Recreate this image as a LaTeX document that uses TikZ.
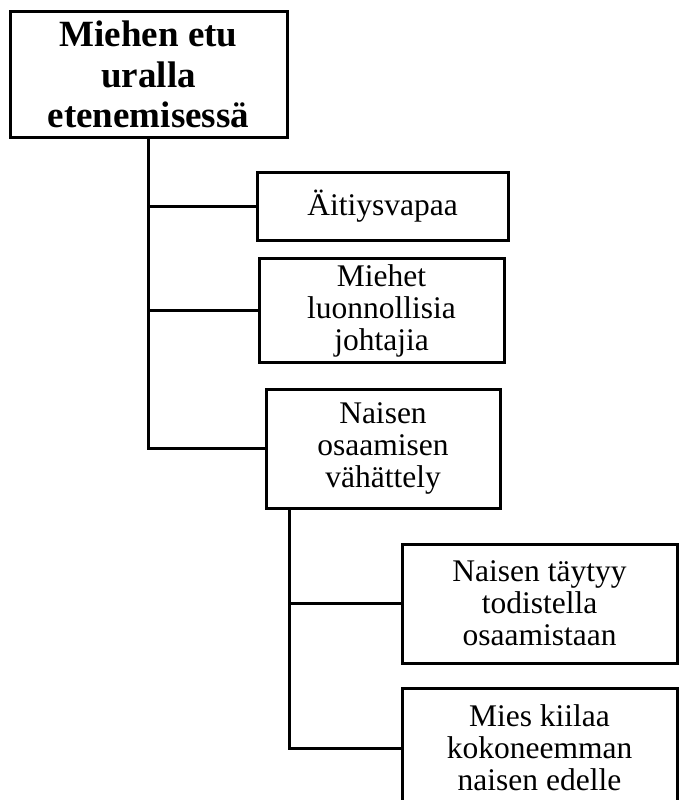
\documentclass[tikz,border=0pt]{standalone}
\usepackage{fontspec}
\setmainfont{Liberation Serif}
\usetikzlibrary{positioning,calc}

\begin{document}
\begin{tikzpicture}[x=1pt, y=-1pt, line width=3pt,
  box/.style={draw, rectangle, align=center, inner sep=0pt,
    font=\fontsize{31.5}{32}\selectfont},
  rootbox/.style={box, font=\fontsize{37}{40.5}\selectfont\bfseries}]
  \useasboundingbox (0,0) rectangle (678,800);

  \node[rootbox, minimum width=277, minimum height=125] (root) at (148.5,74.5) {Miehen etu\\uralla\\etenemisess\"a};
  \node[box, minimum width=251, minimum height=68] (b1) at (382.5,206) {\"Aitiysvapaa};
  \node[box, minimum width=245, minimum height=104] (b2) at (381.5,310.5) {Miehet\\luonnollisia\\johtajia};
  \node[box, minimum width=234, minimum height=119] (b3) at (383,448.5) {Naisen\\osaamisen\\v\"ah\"attely};
  \node[box, minimum width=275, minimum height=119] (b4) at (539.5,603.5) {Naisen t\"aytyy\\todistella\\osaamistaan};
  \node[box, minimum width=275, minimum height=120] (b5) at (539.5,748) {Mies kiilaa\\kokoneemman\\naisen edelle};

  % branches from the top box
  \draw (root.south) |- (b3.west);
  \draw (root.south |- b1.west) -- (b1.west);
  \draw (root.south |- b2.west) -- (b2.west);

  % branches below the third box
  \coordinate (t2) at (289,0);
  \draw (b3.south -| t2) |- (b5.west);
  \draw (t2 |- b4.west) -- (b4.west);
\end{tikzpicture}
\end{document}
